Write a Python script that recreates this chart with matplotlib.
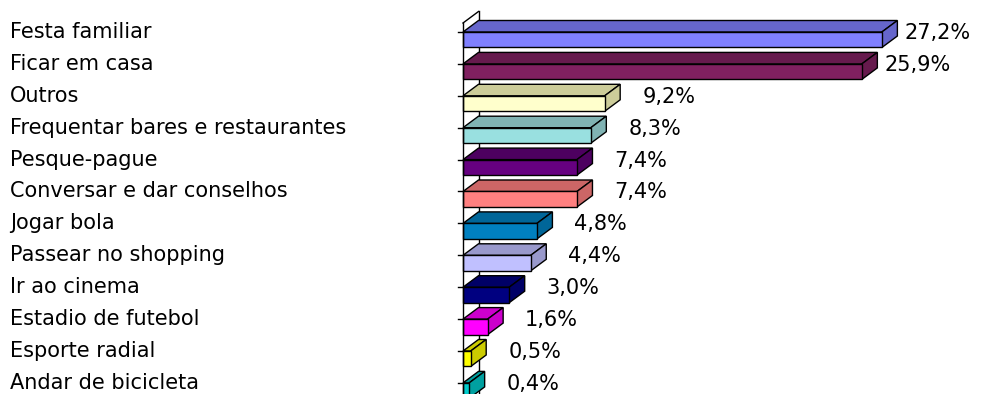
"""
Excel-style 3D horizontal bar chart: leisure activities (%).
"""
import matplotlib
matplotlib.use("Agg")
import matplotlib.pyplot as plt
from matplotlib.patches import Polygon

# ── Data ──────────────────────────────────────────────────────────────────────

categories = [
    "Festa familiar",
    "Ficar em casa",
    "Outros",
    "Frequentar bares e restaurantes",
    "Pesque-pague",
    "Conversar e dar conselhos",
    "Jogar bola",
    "Passear no shopping",
    "Ir ao cinema",
    "Estadio de futebol",
    "Esporte radial",
    "Andar de bicicleta",
]
values = [27.2, 25.9, 9.2, 8.3, 7.4, 7.4, 4.8, 4.4, 3.0, 1.6, 0.5, 0.4]
value_labels = ["27,2%", "25,9%", "9,2%", "8,3%", "7,4%", "7,4%",
                "4,8%", "4,4%", "3,0%", "1,6%", "0,5%", "0,4%"]

# front face / top+side face colours
front_colors = ["#8080FF", "#802060", "#FFFFCC", "#99E0E0", "#660080", "#FF8080",
                "#0080C0", "#C0C0FF", "#000080", "#FF00FF", "#FFFF00", "#00CCCC"]
shade_colors = ["#6666CC", "#661A4D", "#CCCC99", "#80B3B3", "#4D0060", "#CC6666",
                "#006699", "#9999CC", "#000066", "#CC00CC", "#CCCC00", "#00A0A0"]

# ── Geometry (pixel-based layout) ────────────────────────────────────────────

W, H = 993, 394
X0 = 463          # pixel x of the value axis (0 %)
PX_PER_PCT = 15.4
ROW0 = 32         # pixel y of first bar's front-top edge
ROW_STEP = 31.9
DX = 15.5 / PX_PER_PCT   # depth offset in %
DY = 11.5 / ROW_STEP     # depth offset in rows
FH = 15.5 / ROW_STEP     # front face height in rows

fig = plt.figure(figsize=(W / 100, H / 100), dpi=100)
ax = fig.add_axes([0, 0, 1, 1])
ax.set_xlim(-X0 / PX_PER_PCT, (W - X0) / PX_PER_PCT)
ax.set_ylim((H - ROW0) / ROW_STEP, -ROW0 / ROW_STEP)
ax.axis("off")

ybot = (H - ROW0) / ROW_STEP
wall_top = -9 / ROW_STEP

# back wall line + top edge of wall
ax.plot([DX, DX], [wall_top - DY, ybot], color="black", lw=1, zorder=1)
ax.plot([0, DX], [wall_top, wall_top - DY], color="black", lw=1, zorder=1)

for i, (v, fc, sc) in enumerate(zip(values, front_colors, shade_colors)):
    front = [(0, i), (v, i), (v, i + FH), (0, i + FH)]
    top = [(0, i), (v, i), (v + DX, i - DY), (DX, i - DY)]
    side = [(v, i), (v + DX, i - DY), (v + DX, i + FH - DY), (v, i + FH)]
    for pts, col in [(top, sc), (side, sc), (front, fc)]:
        ax.add_patch(Polygon(pts, closed=True, facecolor=col,
                             edgecolor="black", lw=1, zorder=3))

    # category label
    ax.text(10 / PX_PER_PCT - X0 / PX_PER_PCT, i, categories[i],
            ha="left", va="center", fontsize=15, color="black")

    # value label (large bars sit closer, as Excel squeezed them in)
    gap = (22 if v < 20 else 7) / PX_PER_PCT
    ax.text(v + DX + gap, i + 0.03, value_labels[i],
            ha="left", va="center", fontsize=15, color="black")

    # tick on the front axis
    ax.plot([-5 / PX_PER_PCT, 0], [i, i], color="black", lw=1, zorder=4)

# front axis line
ax.plot([0, 0], [wall_top, ybot], color="black", lw=1, zorder=4)

fig.savefig("out.png", dpi=100)
